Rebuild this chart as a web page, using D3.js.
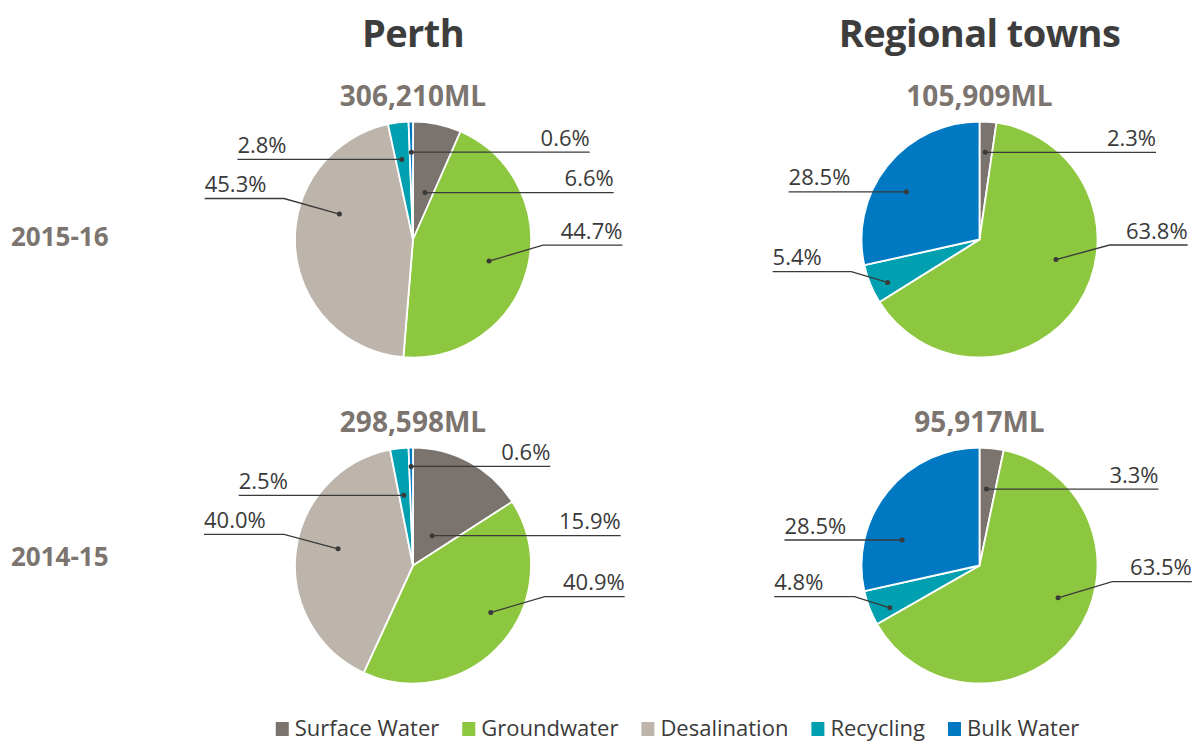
<!DOCTYPE html>
<html>
<head>
<meta charset="utf-8">
<script src="https://cdn.jsdelivr.net/npm/d3@7"></script>
<style>
  html, body { margin: 0; padding: 0; background: #ffffff; }
  svg { display: block; font-family: "Open Sans", "Noto Sans", sans-serif; }
</style>
</head>
<body>
<svg id="chart" width="1197" height="743"></svg>
<script>
// ---------- DATA ----------
const columnTitles = ["Perth", "Regional towns"];
const yearLabels = ["2015-16", "2014-15"];
const categories = ["Surface Water", "Groundwater", "Desalination", "Recycling", "Bulk Water"];
const perth2015_16 = [6.6, 44.7, 45.3, 2.8, 0.6];
const regional2015_16 = [2.3, 63.8, 0, 5.4, 28.5];
const perth2014_15 = [15.9, 40.9, 40.0, 2.5, 0.6];
const regional2014_15 = [3.3, 63.5, 0, 4.8, 28.5];
const totalsML = [306210, 105909, 298598, 95917];

// ---------- STYLE / LAYOUT ----------
const colors = ["#7b736e", "#8dc63f", "#bdb5ac", "#00a0b0", "#0079c2"];
const W = 1197, H = 743, R = 118;

// label leader layout (t = fraction along slice angle, k = fraction of radius,
// elbow = offset from pie centre, end = x offset of the line end from centre)
const labelLayouts = [
  [ {t:.60,k:.41,end:200.7}, {t:.51,k:.67,elbow:[130,5.7],end:209.4},
    {t:.64,k:.66,elbow:[-129,-41],end:-208.3}, {t:.42,k:.685,end:-175.6}, {t:.5,k:.74,end:176.7} ],
  [ {t:.46,k:.74,end:176.5}, {t:.42,k:.67,elbow:[130.1,5.5],end:208.1},
    null, {t:.36,k:.86,elbow:[-128.2,32.2],end:-206.9}, {t:.445,k:.74,end:-190.9} ],
  [ {t:.57,k:.30,end:207.7}, {t:.433,k:.77,elbow:[131.7,31.2],end:211.7},
    {t:.54,k:.65,elbow:[-129,-31.2],end:-209}, {t:.41,k:.6,end:-174.3}, {t:.5,k:.84,end:137.4} ],
  [ {t:.44,k:.65,end:179}, {t:.44,k:.72,elbow:[132.7,16.2],end:212.3},
    null, {t:.26,k:.84,elbow:[-125,31.2],end:-205.3}, {t:.3,k:.69,end:-195} ]
];

const panels = [
  {values: perth2015_16,    total: totalsML[0], col: columnTitles[0], row: yearLabels[0], layout: labelLayouts[0]},
  {values: regional2015_16, total: totalsML[1], col: columnTitles[1], row: yearLabels[0], layout: labelLayouts[1]},
  {values: perth2014_15,    total: totalsML[2], col: columnTitles[0], row: yearLabels[1], layout: labelLayouts[2]},
  {values: regional2014_15, total: totalsML[3], col: columnTitles[1], row: yearLabels[1], layout: labelLayouts[3]}
];

const colX = d3.scaleOrdinal().domain(columnTitles).range([413, 979.5]);
const rowY = d3.scaleOrdinal().domain(yearLabels).range([239.5, 565.5]);
const rowLabelY = d3.scaleOrdinal().domain(yearLabels).range([246, 566]);
const color = d3.scaleOrdinal().domain(categories).range(colors);

const svg = d3.select("#chart");

// column titles
svg.selectAll("text.coltitle").data(columnTitles).join("text")
  .attr("class", "coltitle")
  .attr("x", d => colX(d)).attr("y", 47)
  .attr("text-anchor", "middle")
  .attr("font-size", 38).attr("font-weight", 700)
  .attr("letter-spacing", -0.6)
  .attr("fill", "#3d3d3d")
  .text(d => d);

// row labels
svg.selectAll("text.rowlabel").data(yearLabels).join("text")
  .attr("class", "rowlabel")
  .attr("x", 11).attr("y", d => rowLabelY(d))
  .attr("font-size", 26).attr("font-weight", 700)
  .attr("fill", "#7c746f")
  .text(d => d);

const pie = d3.pie().sort(null).value(d => d).startAngle(0).endAngle(2 * Math.PI);
const arc = d3.arc().innerRadius(0).outerRadius(R);
const fmtTotal = d3.format(",");

panels.forEach(p => {
  const cx = colX(p.col), cy = rowY(p.row);
  const g = svg.append("g").attr("transform", `translate(${cx},${cy})`);
  const arcs = pie(p.values);

  g.selectAll("path").data(arcs).join("path")
    .attr("d", arc)
    .attr("fill", (d, i) => color(categories[i]))
    .attr("stroke", "#ffffff")
    .attr("stroke-width", 1.8)
    .attr("stroke-linejoin", "round");

  // total
  svg.append("text")
    .attr("x", cx).attr("y", cy - 133.5)
    .attr("text-anchor", "middle")
    .attr("font-size", 28).attr("font-weight", 700)
    .attr("fill", "#7c746f")
    .text(fmtTotal(p.total) + "ML");

  // labels
  arcs.forEach((a, i) => {
    const L = p.layout[i];
    if (!L || a.data === 0) return;
    const ang = a.startAngle + L.t * (a.endAngle - a.startAngle);
    const rr = L.k * R;
    const dx = Math.sin(ang) * rr, dy = -Math.cos(ang) * rr;
    const pts = [[dx, dy]];
    let ly = dy;
    if (L.elbow) { pts.push(L.elbow); ly = L.elbow[1]; }
    pts.push([L.end, ly]);
    g.append("path")
      .attr("d", d3.line()(pts))
      .attr("fill", "none")
      .attr("stroke", "#3a3a3a")
      .attr("stroke-width", 1.3);
    g.append("circle")
      .attr("cx", dx).attr("cy", dy).attr("r", 2.5)
      .attr("fill", "#3a3a3a");
    g.append("text")
      .attr("x", L.end).attr("y", ly - 6.5)
      .attr("text-anchor", L.end > 0 ? "end" : "start")
      .attr("font-size", 22).attr("font-weight", 400)
      .attr("fill", "#3a3a3a")
      .text(a.data.toFixed(1) + "%");
  });
});

// legend
const legend = svg.append("g");
let xpos = 0;
categories.forEach(c => {
  const item = legend.append("g").attr("transform", `translate(${xpos},0)`);
  item.append("rect").attr("x", 0).attr("y", -14).attr("width", 13).attr("height", 14)
    .attr("fill", color(c));
  const t = item.append("text").attr("x", 19).attr("y", 0)
    .attr("font-size", 22).attr("font-weight", 400).attr("fill", "#3a3a3a").text(c);
  xpos += 19 + t.node().getComputedTextLength() + 23;
});
const legendWidth = xpos - 23;
legend.attr("transform", `translate(${677.5 - legendWidth / 2},736)`);
</script>
</body>
</html>
